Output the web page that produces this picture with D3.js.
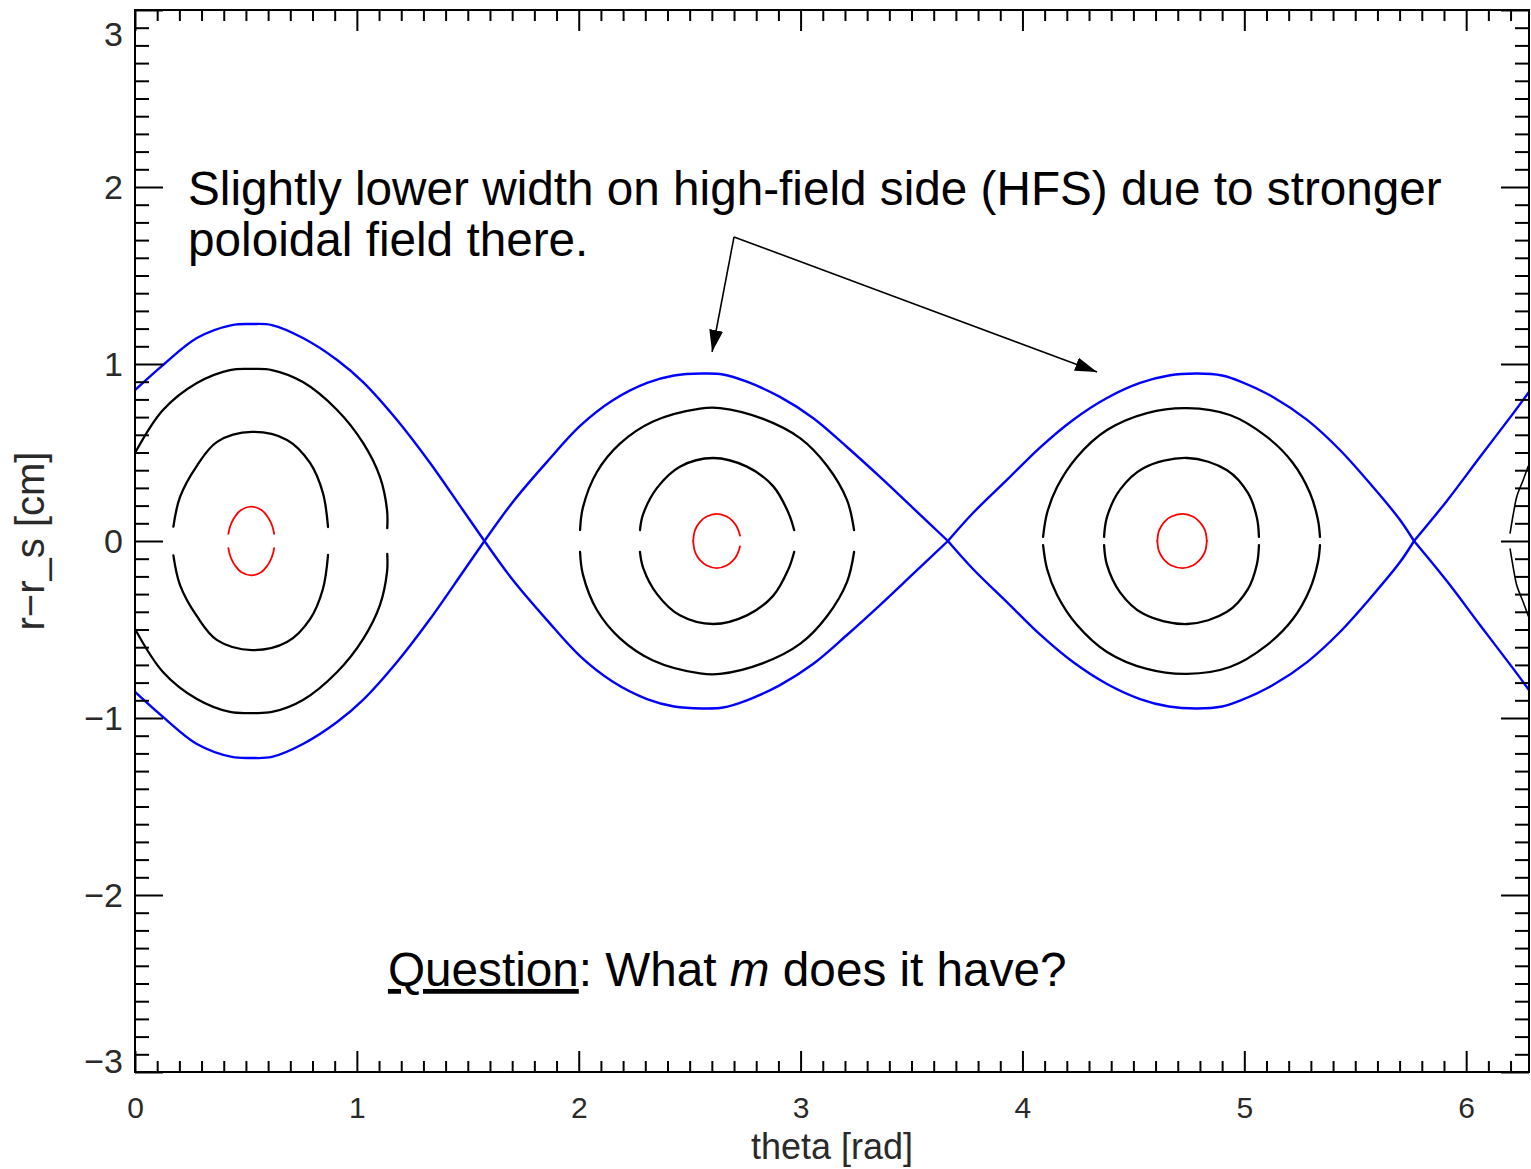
<!DOCTYPE html>
<html>
<head>
<meta charset="utf-8">
<script src="https://cdn.jsdelivr.net/npm/d3@7"></script>
<style>
  html, body { margin: 0; padding: 0; background: #fff; }
  svg { display: block; }
</style>
</head>
<body>
<script>
// ---------------- DATA ----------------
const thetaMajorTicks = [0, 1, 2, 3, 4, 5, 6];
const rMajorTicks = [-3, -2, -1, 0, 1, 2, 3];

// Separatrix (blue): half-width r vs theta, one arc per island (drawn as +r and -r)
const separatrixArc1 = [[0,0.853],[0.126,0.994],[0.279,1.147],[0.437,1.220],[0.527,1.226],[0.617,1.220],[0.757,1.147],[0.911,1.023],[1.028,0.898],[1.181,0.684],[1.330,0.441],[1.478,0.175],[1.575,0]];
const separatrixArc2 = [[1.575,0],[1.704,0.222],[1.857,0.447],[2.006,0.650],[2.154,0.795],[2.308,0.893],[2.430,0.935],[2.556,0.946],[2.650,0.941],[2.758,0.900],[2.907,0.814],[3.056,0.695],[3.209,0.531],[3.358,0.362],[3.507,0.186],[3.664,0]];
const separatrixArc3 = [[3.664,0],[3.777,0.158],[3.930,0.345],[4.079,0.528],[4.228,0.684],[4.381,0.808],[4.530,0.893],[4.660,0.935],[4.787,0.946],[4.900,0.935],[4.981,0.902],[5.129,0.814],[5.283,0.684],[5.431,0.514],[5.580,0.305],[5.702,0.119],[5.765,0]];
const separatrixArc4 = [[5.765,0],[5.912,0.225],[6.063,0.476],[6.212,0.721],[6.283,0.842]];

// Black flux contours inside the islands (upper halves; mirrored below r=0)
const island1Outer = [[0,0.497],[0.126,0.740],[0.279,0.893],[0.428,0.966],[0.527,0.972],[0.617,0.966],[0.757,0.898],[0.911,0.740],[1.028,0.554],[1.104,0.362],[1.136,0.175],[1.137,0.073]];
const island1Inner = [[0.173,0.081],[0.203,0.249],[0.279,0.425],[0.370,0.560],[0.527,0.616],[0.685,0.571],[0.789,0.441],[0.847,0.271],[0.870,0.079]];
const island2Outer = [[2.006,0.062],[2.019,0.190],[2.082,0.390],[2.186,0.550],[2.335,0.675],[2.547,0.748],[2.637,0.751],[2.831,0.690],[2.999,0.580],[3.119,0.425],[3.209,0.232],[3.241,0.062]];
const island2Inner = [[2.276,0.062],[2.290,0.150],[2.353,0.300],[2.456,0.420],[2.606,0.469],[2.758,0.420],[2.876,0.310],[2.945,0.160],[2.971,0.062]];
const island3Outer = [[4.093,0.023],[4.111,0.158],[4.156,0.305],[4.246,0.475],[4.381,0.627],[4.561,0.723],[4.742,0.751],[4.935,0.712],[5.102,0.588],[5.219,0.441],[5.296,0.271],[5.332,0.119],[5.341,0.023]];
const island3Inner = [[4.368,0.023],[4.381,0.135],[4.440,0.290],[4.543,0.410],[4.742,0.469],[4.922,0.400],[5.017,0.270],[5.057,0.130],[5.066,0.023]];
const edgeContour = [[6.198,0.045],[6.213,0.156],[6.228,0.250],[6.257,0.345],[6.280,0.424]];

// Red small contours near the O-points (upper halves)
const island1Core = [[0.421,0.040],[0.426,0.070],[0.436,0.105],[0.452,0.140],[0.478,0.175],[0.524,0.194],[0.570,0.175],[0.596,0.140],[0.612,0.105],[0.622,0.070],[0.627,0.040]];
const island2Core = [[2.516,0.000],[2.522,0.052],[2.532,0.082],[2.548,0.110],[2.575,0.137],[2.622,0.153],[2.669,0.137],[2.696,0.110],[2.712,0.082],[2.722,0.052],[2.727,0.030]];
const island3Core = [[4.608,0.0],[4.614,0.052],[4.625,0.082],[4.641,0.110],[4.669,0.137],[4.722,0.153],[4.770,0.137],[4.797,0.110],[4.814,0.082],[4.825,0.052],[4.831,0.0]];

// Annotation text and arrow anchors (data coordinates)
const noteLines = ["Slightly lower width on high-field side (HFS) due to stronger", "poloidal field there."];
const noteAnchor = [0.239, 1.898];
const noteLine2R = 1.610;
const arrowApex = [2.700, 1.718];
const arrowTips = [[2.601, 1.068], [4.336, 0.955]];
const questionAnchor = [1.140, -2.514];

// ---------------- LAYOUT ----------------
const W = 1531, H = 1169;
const plot = { left: 135, right: 1529, top: 10, bottom: 1072 };

const svg = d3.select("body").append("svg").attr("width", W).attr("height", H)
  .style("font-family", "'Liberation Sans', Arial, sans-serif");
svg.append("rect").attr("width", W).attr("height", H).attr("fill", "#fff");

const x = d3.scaleLinear().domain([0, 2 * Math.PI]).range([plot.left, plot.right]);
const y = d3.scaleLinear().domain([-3, 3]).range([plot.bottom, plot.top]);

const defs = svg.append("defs");
defs.append("clipPath").attr("id", "plotclip").append("rect")
  .attr("x", plot.left).attr("y", plot.top)
  .attr("width", plot.right - plot.left).attr("height", plot.bottom - plot.top);
defs.append("marker").attr("id", "arrowhead")
  .attr("viewBox", "0 0 22 14").attr("refX", 22).attr("refY", 7)
  .attr("markerWidth", 22).attr("markerHeight", 14)
  .attr("markerUnits", "userSpaceOnUse").attr("orient", "auto")
  .append("path").attr("d", "M0,0 L22,7 L0,14 Z").attr("fill", "#000");

// ---------------- CURVES ----------------
const curves = svg.append("g").attr("clip-path", "url(#plotclip)");
const line = d3.line().x(d => x(d[0])).y(d => y(d[1])).curve(d3.curveCatmullRom.alpha(0.5));
const mirror = arr => arr.map(d => [d[0], -d[1]]);

function drawPair(data, color, width) {
  [data, mirror(data)].forEach(d => {
    curves.append("path").attr("d", line(d)).attr("fill", "none")
      .attr("stroke", color).attr("stroke-width", width)
      .attr("stroke-linejoin", "round").attr("stroke-linecap", "round");
  });
}

[island1Outer, island1Inner, island2Outer, island2Inner, island3Outer, island3Inner].forEach(d => drawPair(d, "#000", 2.3));
drawPair(edgeContour, "#000", 1.6);
[island1Core, island2Core, island3Core].forEach(d => drawPair(d, "#ff0000", 1.8));
[separatrixArc1, separatrixArc2, separatrixArc3, separatrixArc4].forEach(d => drawPair(d, "#0000ff", 2.4));

// ---------------- AXES ----------------
const minorX = d3.range(1, 63).map(i => i / 10).filter(v => !thetaMajorTicks.includes(v));
const minorY = d3.range(-29, 30).map(i => i / 10).filter(v => Math.abs(v - Math.round(v)) > 1e-9);
const fmt = d3.format("d");

function styleAxis(g, size) {
  g.select(".domain").remove();
  g.selectAll(".tick line").attr("stroke", "#000").attr("stroke-width", 2);
  g.selectAll(".tick text").attr("fill", "#2a2a2a").attr("font-size", size || 34)
    .attr("font-family", "'Liberation Sans', Arial, sans-serif");
}

// bottom
svg.append("g").attr("transform", `translate(0,${plot.bottom})`)
  .call(d3.axisBottom(x).tickValues(minorX).tickSize(-11).tickFormat("")).call(styleAxis);
svg.append("g").attr("transform", `translate(0,${plot.bottom})`)
  .call(d3.axisBottom(x).tickValues(thetaMajorTicks).tickSize(-21).tickPadding(25).tickFormat(fmt))
  .call(g => styleAxis(g, 30));
// top
svg.append("g").attr("transform", `translate(0,${plot.top})`)
  .call(d3.axisTop(x).tickValues(minorX).tickSize(-11).tickFormat("")).call(styleAxis);
svg.append("g").attr("transform", `translate(0,${plot.top})`)
  .call(d3.axisTop(x).tickValues(thetaMajorTicks).tickSize(-21).tickFormat("")).call(styleAxis);
// left
svg.append("g").attr("transform", `translate(${plot.left},0)`)
  .call(d3.axisLeft(y).tickValues(minorY).tickSize(-14).tickFormat("")).call(styleAxis);
const leftMajor = svg.append("g").attr("transform", `translate(${plot.left},0)`)
  .call(d3.axisLeft(y).tickValues(rMajorTicks).tickSize(-28).tickPadding(12).tickFormat(fmt))
  .call(g => styleAxis(g, 34));
leftMajor.selectAll(".tick text").attr("dy", d => d === 3 ? "1.05em" : d === -3 ? "0.0em" : "0.35em");
// right
svg.append("g").attr("transform", `translate(${plot.right},0)`)
  .call(d3.axisRight(y).tickValues(minorY).tickSize(-14).tickFormat("")).call(styleAxis);
svg.append("g").attr("transform", `translate(${plot.right},0)`)
  .call(d3.axisRight(y).tickValues(rMajorTicks).tickSize(-28).tickFormat("")).call(styleAxis);

// frame
svg.append("rect").attr("x", plot.left).attr("y", plot.top)
  .attr("width", plot.right - plot.left).attr("height", plot.bottom - plot.top)
  .attr("fill", "none").attr("stroke", "#000").attr("stroke-width", 2);

// axis titles
svg.append("text").attr("x", 832).attr("y", 1159)
  .attr("text-anchor", "middle").attr("font-size", 36).attr("fill", "#2a2a2a")
  .text("theta [rad]");
svg.append("text").attr("transform", `translate(44,${y(0)}) rotate(-90)`)
  .attr("text-anchor", "middle").attr("font-size", 40).attr("fill", "#2a2a2a")
  .text("r\u2212r_s [cm]");

// ---------------- ANNOTATIONS ----------------
const noteFont = 47.7;
svg.append("text").attr("x", x(noteAnchor[0])).attr("y", y(noteAnchor[1]))
  .attr("font-size", noteFont).attr("fill", "#000").text(noteLines[0]);
svg.append("text").attr("x", x(noteAnchor[0])).attr("y", y(noteLine2R))
  .attr("font-size", noteFont).attr("fill", "#000").text(noteLines[1]);

arrowTips.forEach(t => {
  svg.append("line")
    .attr("x1", x(arrowApex[0])).attr("y1", y(arrowApex[1]))
    .attr("x2", x(t[0])).attr("y2", y(t[1]))
    .attr("stroke", "#000").attr("stroke-width", 1.6)
    .attr("marker-end", "url(#arrowhead)");
});

const q = svg.append("text").attr("x", x(questionAnchor[0])).attr("y", y(questionAnchor[1]))
  .attr("font-size", noteFont).attr("fill", "#000");
q.append("tspan").attr("text-decoration", "underline").text("Question");
q.append("tspan").text(": What ");
q.append("tspan").attr("font-style", "italic").text("m");
q.append("tspan").text(" does it have?");
</script>
</body>
</html>
